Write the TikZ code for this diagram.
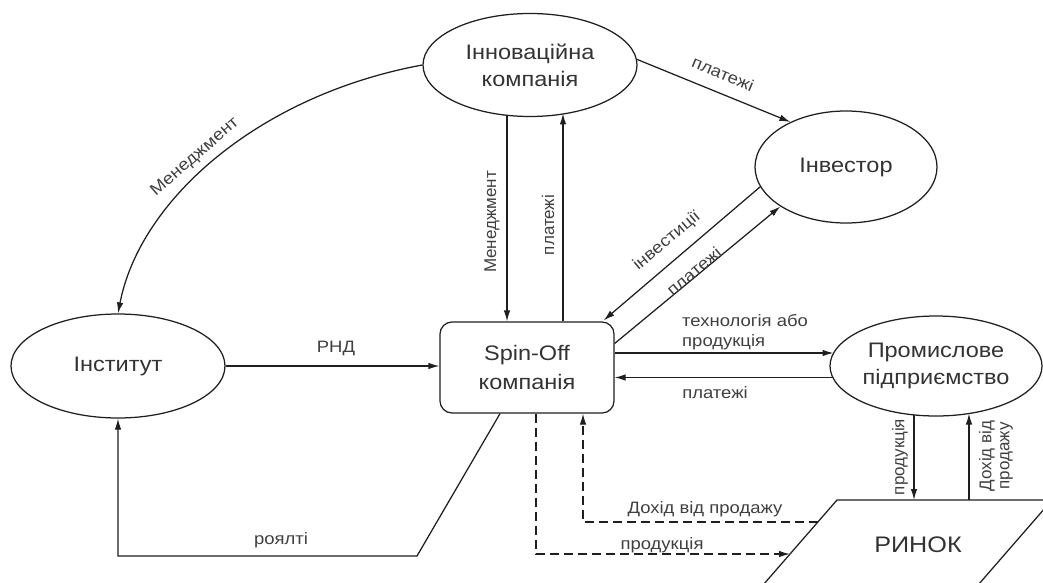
\documentclass[tikz,border=0pt]{standalone}
\usepackage{fontspec}
\setmainfont{Liberation Sans}[FakeStretch=1.12]
\newfontfamily\vfont{Liberation Sans}
\usetikzlibrary{shapes.geometric,arrows.meta,calc}
\begin{document}
\begin{tikzpicture}[x=1pt,y=-1pt,
  line/.style={draw=black!88,line width=1.25pt},
  arr/.style={line,-{Latex[length=11pt,width=6.5pt]}},
  dsh/.style={arr,dash pattern=on 9pt off 5pt},
  ell/.style={line,ellipse,inner sep=0pt,text=black!80,font=\fontsize{21}{27}\selectfont,align=center},
  boxst/.style={line,rectangle,rounded corners=12pt,inner sep=0pt,text=black!80,font=\fontsize{21}{29}\selectfont,align=center},
  lbl/.style={text=black!75,font=\fontsize{16.5}{19.5}\selectfont,inner sep=0pt},
  vlbl/.style={text=black!75,font=\vfont\fontsize{17}{18}\selectfont,inner sep=0pt,rotate=90,align=center},
]
\fill[white] (0,0) rectangle (1043,583);
\useasboundingbox (0,0) rectangle (1043,583);

% nodes
\node[ell,minimum width=214pt,minimum height=103pt] (inno) at (530,65) {Інноваційна\\компанія};
\node[ell,minimum width=182pt,minimum height=112pt] (inv) at (846,167) {Інвестор};
\node[ell,minimum width=214pt,minimum height=104pt] (inst) at (118,366) {Інститут};
\node[ell,minimum width=212pt,minimum height=100pt] (prom) at (936,366) {Промислове\\підприємство};
\node[boxst,minimum width=174pt,minimum height=91pt] (spin) at (527,367.5) {Spin-Off\\компанія};

% market
\coordinate (mktTL) at (837,500);
\coordinate (mktBL) at (750,600);
\coordinate (mktTR) at (1052,500);
\coordinate (mktBR) at (965,600);
\begin{scope}
\clip (0,0) rectangle (1043,583);
\draw[line] (mktBL) -- (mktTL) -- (mktTR) -- (mktBR);
\end{scope}
\node[text=black!80,font=\fontsize{22.5}{27}\selectfont] (mkt) at (918,545) {РИНОК};

% connectors
\draw[arr] (inno.west) .. controls +(-163,30) and +(22,-114) .. (inst.north);
\coordinate (im) at ($(inno.center)+(-23,49.8)$);
\coordinate (ip) at ($(inno.center)+(33,48.5)$);
\draw[arr] (im) -- (im |- spin.north);
\draw[arr] (ip |- spin.north) -- (ip);
\draw[arr] (inno.3) -- (inv.141);
\draw[arr] (inv.193) -- ($(spin.north east)+(-11,-1)$);
\draw[arr] ($(spin.east)+(0,-24)$) -- (inv.211);
\draw[arr] (inst.east) -- (spin.west |- inst.east);
\draw[arr] ($(spin.east)+(0,-14.5)$) -- ($(prom.center)+(-102.5,-13)$);
\draw[arr] ($(prom.center)+(-103,11.5)$) -- ($(spin.east)+(0,10)$);
\coordinate (pd) at ($(prom.center)+(-22,48.9)$);
\coordinate (pu) at ($(prom.center)+(33,47.5)$);
\draw[arr] (pd) -- (pd |- mktTL);
\draw[arr] (pu |- mktTL) -- (pu);
\coordinate (r0) at ($(spin.south)+(-27,0)$);
\coordinate (r1) at (417,556);
\draw[arr] (r0) -- (r1) -- (inst.south |- r1) -- (inst.south);
\coordinate (d1) at ($(spin.south)+(9,0)$);
\coordinate (d2) at ($(spin.south)+(56,0)$);
\coordinate (mL1) at ($(mktTL)!0.22!(mktBL)$);
\coordinate (mL2) at ($(mktTL)!0.54!(mktBL)$);
\draw[dsh] (d1) -- (d1 |- mL2) -- (mL2);
\draw[dsh] (mL1) -- (mL1 -| d2) -- (d2);

% labels
\node[lbl] (lrnd) at (336,348) {РНД};
\node[lbl] (lroy) at (281,540) {роялті};
\node[lbl,rotate=41] (lmen1) at (195,157) {Менеджмент};
\node[vlbl] (lmen2) at (492,222) {Менеджмент};
\node[vlbl] (lpl1) at (548,225) {платежі};
\node[lbl,rotate=-22.4] (lpl2) at (723,74) {платежі};
\node[lbl,rotate=40] (linv) at (667,241) {інвестиції};
\node[lbl,rotate=40] (lpl3) at (694,271) {платежі};
\node[lbl,anchor=west,align=left] (ltech) at (682,332) {технологія або\\продукція};
\node[lbl] (lpl4) at (715,393) {платежі};
\node[vlbl] (lprod1) at (900,457) {продукція};
\node[vlbl] (ldoh1) at (996,456) {Дохід від\\продажу};
\node[lbl] (ldoh2) at (705,509) {Дохід від продажу};
\node[lbl] (lprod2) at (662,545) {продукція};
\end{tikzpicture}
\end{document}
